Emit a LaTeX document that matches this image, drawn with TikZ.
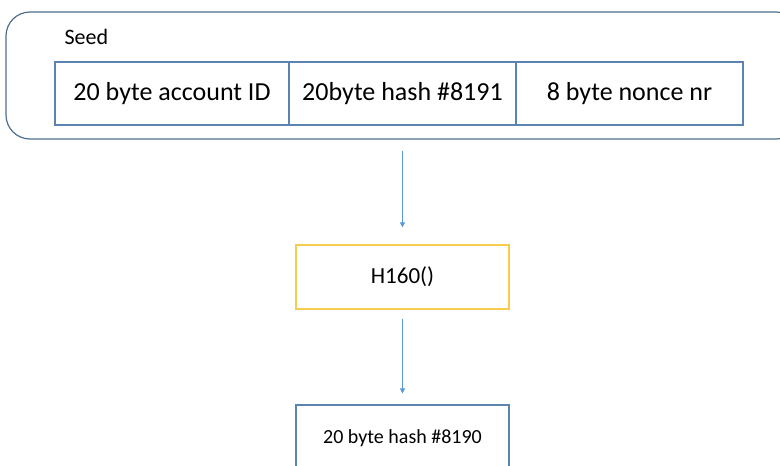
\documentclass[tikz,border=0pt]{standalone}
\usepackage{fontspec}
\setmainfont{Carlito}
\usetikzlibrary{arrows.meta}
\definecolor{cellblue}{HTML}{5B84B1}
\definecolor{framegray}{HTML}{4F6F8F}
\definecolor{arrowblue}{HTML}{5B9BD5}
\definecolor{fnyellow}{HTML}{F7CB4D}
\tikzset{
  cell/.style={draw=cellblue, line width=1.1pt, minimum height=63pt, inner sep=0pt, font=\fontsize{26}{30}\selectfont},
  fnbox/.style={draw=fnyellow, line width=1.3pt, minimum width=213pt, minimum height=64pt, font=\fontsize{23}{27}\selectfont},
  outbox/.style={draw=cellblue, line width=1.1pt, minimum width=213pt, minimum height=90pt},
  flow/.style={draw=arrowblue, line width=0.8pt, -{Triangle[length=5pt,width=5pt]}}
}
\begin{document}
\begin{tikzpicture}[x=1pt,y=-1pt]
\useasboundingbox (0,0) rectangle (780,466);
\clip (0,0) rectangle (780,466);
% outer seed frame, running past the right edge
\node[draw=framegray, line width=1.2pt, rounded corners=24pt, minimum width=794pt, minimum height=127pt, inner sep=0pt] (seed) at (403,75.5) {};
\node[font=\fontsize{22}{26}\selectfont, anchor=west] (seedlbl) at (61,37) {Seed};
% the three seed fields
\node[cell, minimum width=234pt] (acct) at (172,93.5) {20 byte account ID};
\node[cell, minimum width=227pt] (hash) at (402.5,93.5) {20byte hash \#8191};
\node[cell, minimum width=227pt] (nonce) at (629.5,93.5) {8 byte nonce nr};
% hash function and result
\node[fnbox] (h) at (402.5,277) {H160()};
\node[outbox] (res) at (402.5,450) {};
\node[font=\fontsize{20}{24}\selectfont] (reslbl) at (402.5,438) {20 byte hash \#8190};
% flow arrows
\draw[flow, shorten <=11pt, shorten >=17pt] (h.north |- seed.south) -- (h.north);
\draw[flow, shorten <=9pt, shorten >=11pt] (h.south) -- (res.north);
\end{tikzpicture}
\end{document}
